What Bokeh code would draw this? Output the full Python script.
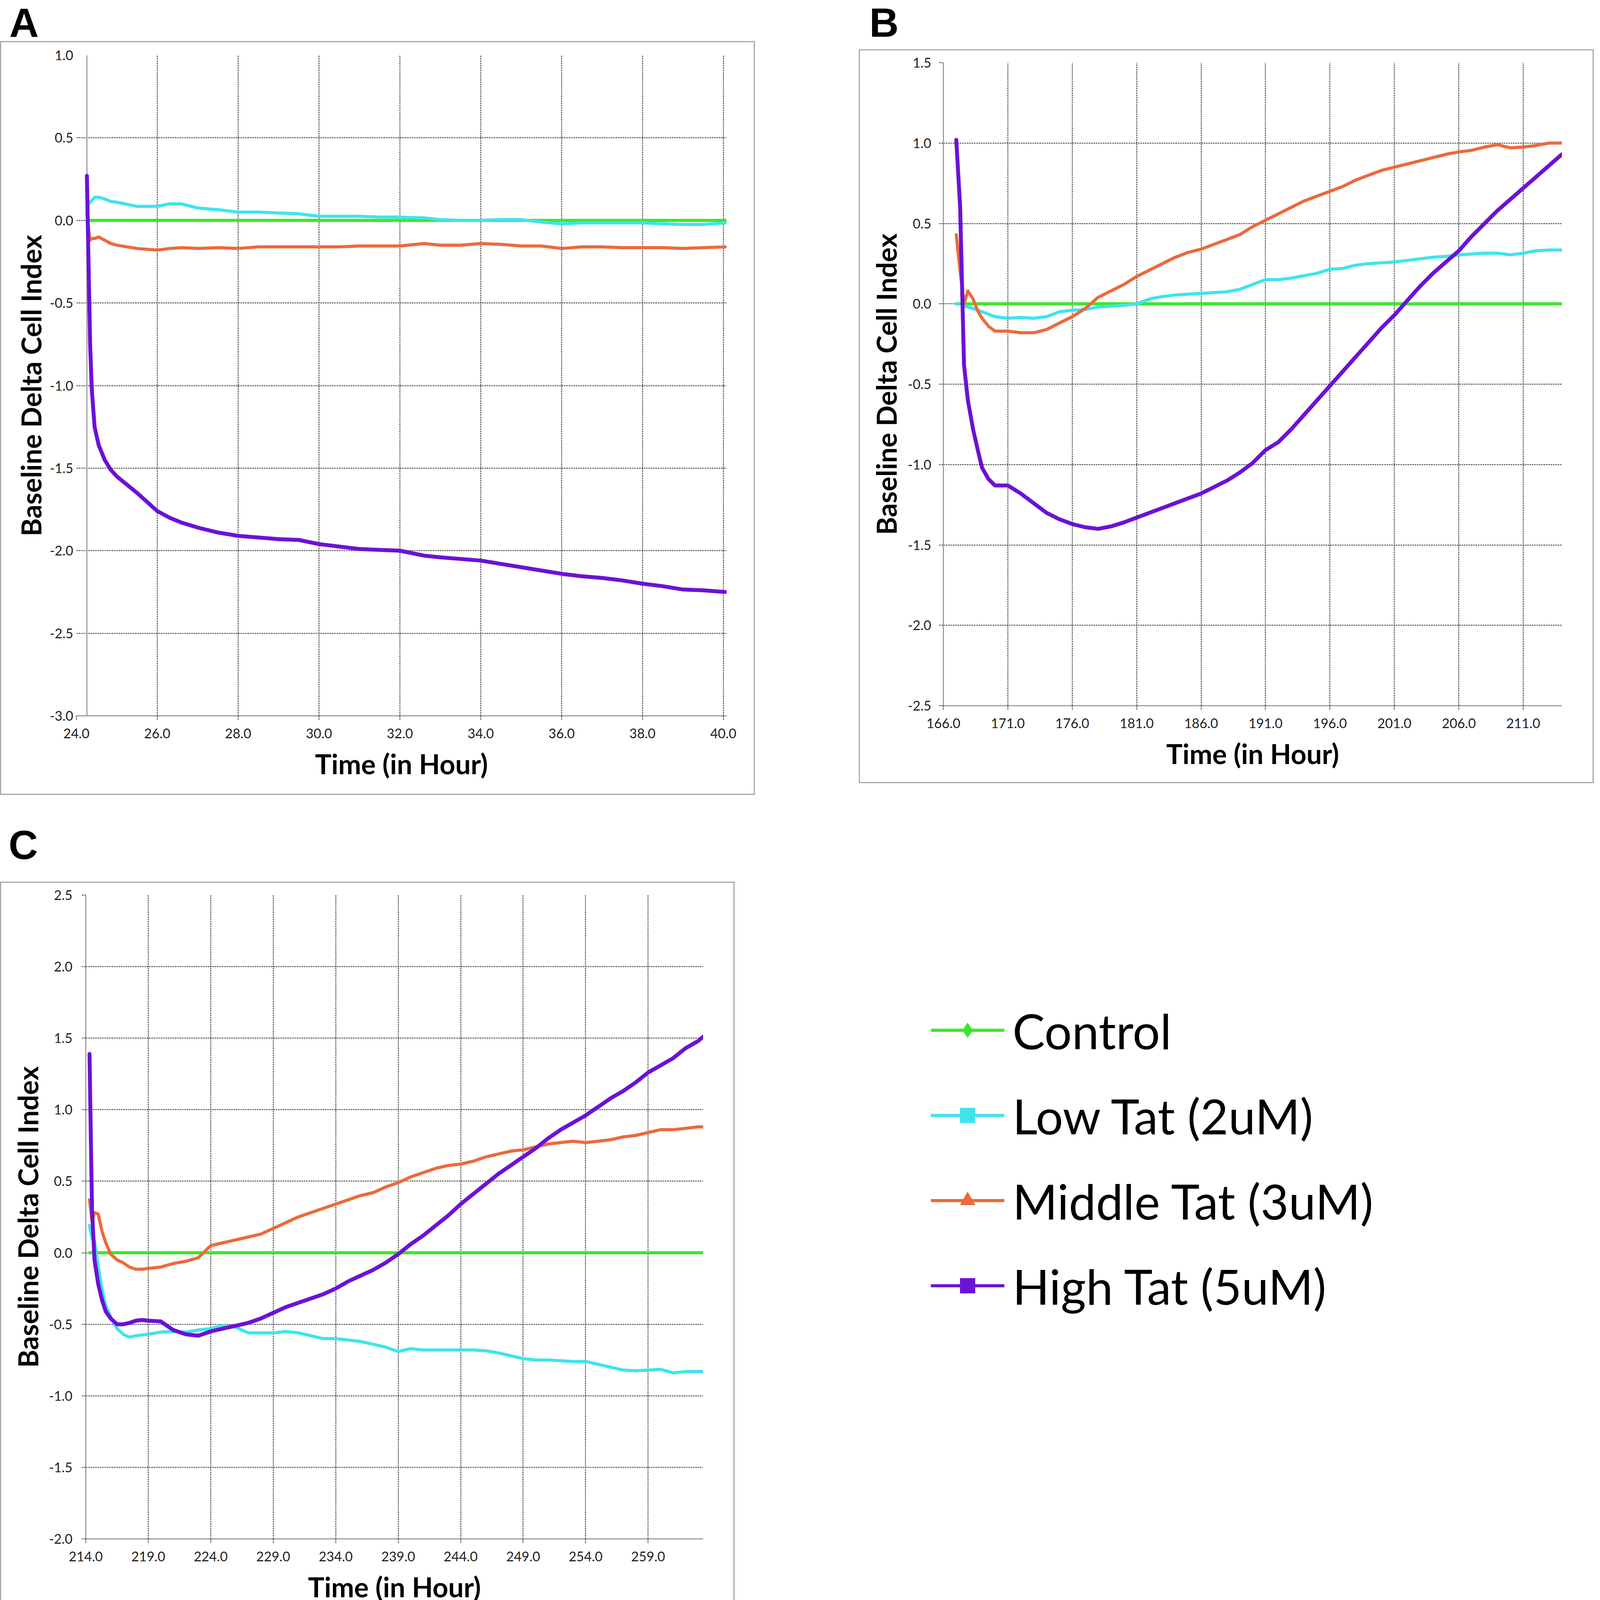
from bokeh.plotting import figure
from bokeh.models import Range1d, FixedTicker, PrintfTickFormatter, Span, Spacer, Div
from bokeh.layouts import row, column
from bokeh.embed import file_html
from bokeh.resources import INLINE
from bokeh.core.properties import value

# ---------------- data ----------------
series_names = ["Control", "Low Tat (2uM)", "Middle Tat (3uM)", "High Tat (5uM)"]
series_colors = ["#3ee629", "#3fe4ea", "#ec693d", "#6b12d6"]
legend_markers = ["diamond", "square", "triangle", "square"]
panel_letters = ["A", "B", "C"]

# Panel A
time_a = [24.26, 24.30, 24.34, 24.38, 24.45, 24.55, 24.70, 24.85, 25.0, 25.5, 26.0, 26.3, 26.6, 27.0,
          27.5, 28.0, 28.5, 29.0, 29.5, 30.0, 30.5, 31.0, 31.5, 32.0, 32.6, 33.0, 33.5, 34.0, 34.5,
          35.0, 35.5, 36.0, 36.5, 37.0, 37.5, 38.0, 38.5, 39.0, 39.5, 40.05]
control_a = [0.0] * len(time_a)
low_a = [0.10, 0.10, 0.11, 0.12, 0.14, 0.14, 0.13, 0.115, 0.11, 0.085, 0.085, 0.10, 0.10, 0.075,
         0.065, 0.05, 0.05, 0.045, 0.04, 0.025, 0.025, 0.025, 0.02, 0.02, 0.015, 0.005, 0.0, 0.0, 0.005,
         0.005, -0.01, -0.02, -0.015, -0.015, -0.015, -0.015, -0.02, -0.025, -0.025, -0.015]
middle_a = [0.05, -0.05, -0.12, -0.11, -0.11, -0.10, -0.12, -0.14, -0.15, -0.17, -0.18, -0.17, -0.165, -0.17,
            -0.165, -0.17, -0.16, -0.16, -0.16, -0.16, -0.16, -0.155, -0.155, -0.155, -0.14, -0.15, -0.15, -0.14, -0.145,
            -0.155, -0.155, -0.17, -0.16, -0.16, -0.165, -0.165, -0.165, -0.17, -0.165, -0.16]
high_a = [0.27, -0.25, -0.75, -1.02, -1.25, -1.36, -1.45, -1.51, -1.55, -1.65, -1.76, -1.80, -1.83, -1.86,
          -1.89, -1.91, -1.92, -1.93, -1.935, -1.96, -1.975, -1.99, -1.995, -2.0, -2.03, -2.04, -2.05, -2.06, -2.08,
          -2.10, -2.12, -2.14, -2.155, -2.165, -2.18, -2.20, -2.215, -2.235, -2.24, -2.25]

# Panel B
time_b = [167.0, 167.3, 167.6, 167.9, 168.3, 168.7, 169.0, 169.5,
          170, 171, 172, 173, 174, 175, 176, 177, 178, 179, 180, 181, 182, 183, 184, 185, 186, 187,
          188, 189, 190, 191, 192, 193, 194, 195, 196, 197, 198, 199, 200, 201, 202, 203, 204, 205,
          206, 207, 208, 209, 210, 211, 212, 213, 214]
control_b = [0.0] * len(time_b)
low_b = [0.0, 0.0, -0.01, -0.02, -0.03, -0.04, -0.05, -0.065,
         -0.08, -0.09, -0.085, -0.09, -0.08, -0.05, -0.04, -0.035, -0.02, -0.015, -0.01, 0.0, 0.03, 0.045,
         0.055, 0.06, 0.065, 0.07, 0.075, 0.09, 0.12, 0.15, 0.15, 0.16, 0.175, 0.19, 0.215, 0.22, 0.24, 0.25,
         0.255, 0.26, 0.27, 0.28, 0.29, 0.295, 0.305, 0.31, 0.315, 0.315, 0.305, 0.315, 0.33, 0.335, 0.335]
middle_b = [0.43, 0.20, 0.0, 0.08, 0.03, -0.05, -0.09, -0.14,
            -0.17, -0.17, -0.18, -0.18, -0.16, -0.12, -0.08, -0.03, 0.04, 0.08, 0.12, 0.17, 0.21, 0.25,
            0.29, 0.32, 0.34, 0.37, 0.40, 0.43, 0.48, 0.52, 0.56, 0.60, 0.64, 0.67, 0.70, 0.73, 0.77, 0.80,
            0.83, 0.85, 0.87, 0.89, 0.91, 0.93, 0.945, 0.955, 0.975, 0.99, 0.97, 0.975, 0.985, 1.0, 1.0]
high_b = [1.02, 0.60, -0.38, -0.60, -0.78, -0.92, -1.02, -1.09,
          -1.13, -1.13, -1.18, -1.24, -1.30, -1.34, -1.37, -1.39, -1.40, -1.385, -1.36, -1.33, -1.30, -1.27,
          -1.24, -1.21, -1.18, -1.14, -1.10, -1.05, -0.99, -0.91, -0.86, -0.78, -0.69, -0.60, -0.51, -0.42,
          -0.33, -0.24, -0.15, -0.07, 0.02, 0.11, 0.19, 0.26, 0.33, 0.42, 0.50, 0.58, 0.65, 0.72, 0.79,
          0.86, 0.93]

# Panel C
time_c = [214.3, 214.5, 214.7, 215.0, 215.3, 215.6, 216.0, 216.5, 217.0, 217.5, 218.0, 218.5,
          219, 220, 221, 222, 223, 224, 225, 226, 227, 228, 229, 230, 231, 232, 233, 234, 235, 236,
          237, 238, 239, 240, 241, 242, 243, 244, 245, 246, 247, 248, 249, 250, 251, 252, 253, 254,
          255, 256, 257, 258, 259, 260, 261, 262, 263, 263.4]
control_c = [0.0] * len(time_c)
low_c = [0.19, 0.10, 0.08, -0.10, -0.25, -0.37, -0.45, -0.53, -0.57, -0.59, -0.58, -0.575,
         -0.57, -0.555, -0.55, -0.555, -0.54, -0.53, -0.51, -0.52, -0.56, -0.56, -0.56, -0.55, -0.56,
         -0.58, -0.60, -0.60, -0.61, -0.62, -0.64, -0.66, -0.69, -0.67, -0.68, -0.68, -0.68, -0.68,
         -0.68, -0.685, -0.70, -0.72, -0.74, -0.75, -0.75, -0.755, -0.76, -0.76, -0.78, -0.80, -0.82,
         -0.825, -0.82, -0.815, -0.84, -0.83, -0.83, -0.83]
middle_c = [0.37, 0.22, 0.28, 0.27, 0.15, 0.07, -0.01, -0.05, -0.07, -0.10, -0.115, -0.115,
            -0.11, -0.10, -0.075, -0.06, -0.035, 0.05, 0.07, 0.09, 0.11, 0.13, 0.17, 0.21, 0.25, 0.28,
            0.31, 0.34, 0.37, 0.40, 0.42, 0.46, 0.49, 0.53, 0.56, 0.59, 0.61, 0.62, 0.64, 0.67, 0.69,
            0.71, 0.72, 0.74, 0.76, 0.77, 0.78, 0.77, 0.78, 0.79, 0.81, 0.82, 0.84, 0.86, 0.86, 0.87,
            0.88, 0.88]
high_c = [1.39, 0.30, -0.05, -0.22, -0.33, -0.41, -0.46, -0.50, -0.50, -0.49, -0.475, -0.47,
          -0.475, -0.48, -0.54, -0.57, -0.58, -0.55, -0.53, -0.51, -0.49, -0.46, -0.42, -0.38, -0.35,
          -0.32, -0.29, -0.25, -0.20, -0.16, -0.12, -0.07, -0.01, 0.06, 0.12, 0.19, 0.26, 0.34, 0.41,
          0.48, 0.55, 0.61, 0.67, 0.73, 0.80, 0.86, 0.91, 0.96, 1.02, 1.08, 1.13, 1.19, 1.26, 1.31,
          1.36, 1.43, 1.48, 1.51]

xticks_a = [24.0, 26.0, 28.0, 30.0, 32.0, 34.0, 36.0, 38.0, 40.0]
yticks_a = [-3.0, -2.5, -2.0, -1.5, -1.0, -0.5, 0.0, 0.5, 1.0]
xticks_b = [166.0, 171.0, 176.0, 181.0, 186.0, 191.0, 196.0, 201.0, 206.0, 211.0]
yticks_b = [-2.5, -2.0, -1.5, -1.0, -0.5, 0.0, 0.5, 1.0, 1.5]
xticks_c = [214.0, 219.0, 224.0, 229.0, 234.0, 239.0, 244.0, 249.0, 254.0, 259.0]
yticks_c = [-2.0, -1.5, -1.0, -0.5, 0.0, 0.5, 1.0, 1.5, 2.0, 2.5]

x_title = "Time (in Hour)"
y_title = "Baseline Delta Cell Index"

# ---------------- styling ----------------
FONT = "Lato"
GRID = "#2e2e2e"
AXIS = "#9f9f9f"
BOX = "3px solid #a8a8a8"
WIDTHS = [8, 8, 8, 10]


def plain(W, H):
    f = figure(width=W, height=H, x_range=Range1d(0, W), y_range=Range1d(H, 0),
               min_border=0, toolbar_location=None, output_backend="svg",
               x_axis_location=None, y_axis_location=None, outline_line_color=None,
               background_fill_color="white", border_fill_color="white", frame_align=False)
    f.grid.visible = False
    return f


def letter_div(W, H, ch, pad_left, pad_top):
    return Div(text=ch, width=W, height=H, margin=0,
               styles={"font-family": "'Liberation Sans', Arial, sans-serif",
                       "font-weight": "bold", "font-size": "104px", "line-height": "116px",
                       "color": "#000000", "box-sizing": "border-box",
                       "padding-left": f"{pad_left}px", "padding-top": f"{pad_top}px",
                       "overflow": "visible"})


def panel(W, H, borders, xr, yr, xt, yt, ytick_out, ylab_standoff, ytitle_standoff,
          time, values, y_axis_at_data=False):
    bl, bt, br, bb = borders
    p = figure(width=W, height=H, x_range=Range1d(*xr), y_range=Range1d(*yr),
               min_border_left=bl, min_border_top=bt, min_border_right=br,
               min_border_bottom=bb, toolbar_location=None, output_backend="svg",
               background_fill_color="white", border_fill_color="white",
               outline_line_color=None, frame_align=False)
    for ax, ticks in ((p.xaxis[0], xt), (p.yaxis[0], yt)):
        ax.ticker = FixedTicker(ticks=ticks)
        ax.formatter = PrintfTickFormatter(format="%.1f")
        ax.major_label_text_font = FONT
        ax.major_label_text_font_size = "34px"
        ax.major_label_text_color = "#1e1e1e"
        ax.minor_tick_line_color = None
        ax.major_tick_in = 0
        ax.major_tick_line_color = GRID
        ax.major_tick_line_dash = "4 2"
        ax.major_tick_line_width = 2
        ax.axis_label_text_font = FONT
        ax.axis_label_text_font_style = "bold"
        ax.axis_label_text_font_size = "70px"
        ax.axis_label_text_color = "#000000"
        ax.axis_line_color = AXIS
        ax.axis_line_width = 3
    p.xaxis.axis_label = x_title
    p.yaxis.axis_label = y_title
    p.xaxis.major_tick_out = 10
    p.xaxis.major_label_standoff = 22
    p.xaxis.axis_label_standoff = 20
    p.yaxis.major_tick_out = ytick_out
    p.yaxis.major_label_standoff = ylab_standoff
    p.yaxis.axis_label_standoff = ytitle_standoff
    p.xgrid.ticker = FixedTicker(ticks=xt)
    p.ygrid.ticker = FixedTicker(ticks=yt)
    for g in (p.xgrid[0], p.ygrid[0]):
        g.grid_line_color = GRID
        g.grid_line_dash = "4 2"
        g.grid_line_width = 2
    if y_axis_at_data:
        p.yaxis.axis_line_color = None
        p.add_layout(Span(location=time[0], dimension="height", line_color=AXIS,
                          line_width=3, level="underlay"))
    for vals, col, w in zip(values, series_colors, WIDTHS):
        p.line(time, vals, line_color=col, line_width=w, line_join="round", line_cap="round")
    return column(p, styles={"border": BOX})


# Panel A: box 1932x1930 (interior 1926x1924)
pa = panel(1926, 1924, (192, 33, 70, 200), (24.0, 40.08), (-3.0, 1.0), xticks_a, yticks_a,
           0, 8, 3, time_a, [control_a, low_a, middle_a, high_a], y_axis_at_data=True)
# Panel B: box 1881x1879 (interior 1875x1873)
pb = panel(1875, 1873, (213, 31, 79, 196), (166.0, 214.0), (-2.5, 1.5), xticks_b, yticks_b,
           11, 20, 10, time_b, [control_b, low_b, middle_b, high_b])
# Panel C: box 1880x1880 (interior 1874x1874)
pc = panel(1874, 1874, (216, 31, 78, 195), (214.0, 263.4), (-2.0, 2.5), xticks_c, yticks_c,
           10, 24, 9, time_c, [control_c, low_c, middle_c, high_c])

la = letter_div(1932, 105, panel_letters[0], 24, 0)
lb = letter_div(1881, 126, panel_letters[1], 27, 0)
lc = letter_div(1880, 222, panel_letters[2], 22, 70)

# ---------------- legend panel ----------------
LW, LH = 2199, 2102
pl = plain(LW, LH)
leg_x0, leg_x1, leg_text_x = 502, 690, 711
leg_top, leg_gap = 602, 218
rows_y = [leg_top + i * leg_gap for i in range(len(series_names))]
for yv, col, mk in zip(rows_y, series_colors, legend_markers):
    pl.segment(x0=[leg_x0], y0=[yv], x1=[leg_x1], y1=[yv], line_color=col, line_width=8)
    pl.scatter(x=[(leg_x0 + leg_x1) / 2], y=[yv], marker=mk, size=38, fill_color=col,
               line_color=col)
pl.text(x=[leg_text_x] * len(rows_y), y=rows_y, text=series_names, text_font=value(FONT),
        text_font_size="124px", text_baseline="middle", text_align="left", text_color="#000000")

top = row(column(la, pa), Spacer(width=266, height=10, margin=0), column(lb, pb))
bottom = row(column(lc, pc), pl)
layout = column(top, bottom)
open("out.html", "w").write(file_html(layout, INLINE))
